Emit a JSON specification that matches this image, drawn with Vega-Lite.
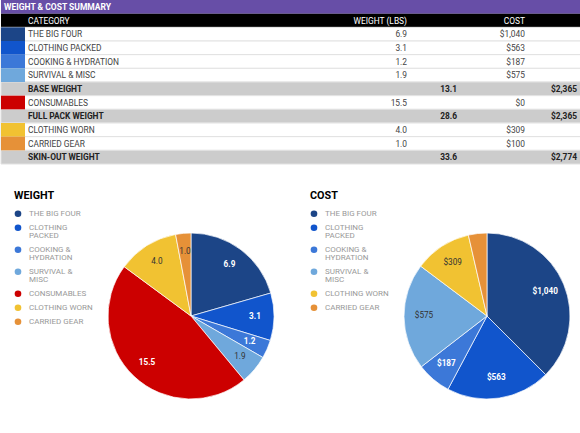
{
  "$schema": "https://vega.github.io/schema/vega-lite/v6.json",
  "padding": 0,
  "background": "white",
  "config": {
    "view": {"stroke": null},
    "font": "Roboto",
    "text": {"font": "Roboto"},
    "legend": {"labelFont": "Roboto", "titleFont": "Roboto"},
    "style": {"guide-label": {"lineHeight": 8}}
  },
  "datasets": {
    "table": [
      {"r": 0, "cat": "WEIGHT & COST SUMMARY", "kind": "title"},
      {"r": 1, "cat": "CATEGORY", "w": "WEIGHT (LBS)", "c": "COST", "kind": "header"},
      {"r": 2, "cat": "THE BIG FOUR", "w": "6.9", "c": "$1,040", "kind": "item"},
      {"r": 3, "cat": "CLOTHING PACKED", "w": "3.1", "c": "$563", "kind": "item"},
      {"r": 4, "cat": "COOKING & HYDRATION", "w": "1.2", "c": "$187", "kind": "item"},
      {"r": 5, "cat": "SURVIVAL & MISC", "w": "1.9", "c": "$575", "kind": "item"},
      {"r": 6, "cat": "BASE WEIGHT", "wt": "13.1", "ct": "$2,365", "kind": "total"},
      {"r": 7, "cat": "CONSUMABLES", "w": "15.5", "c": "$0", "kind": "item"},
      {"r": 8, "cat": "FULL PACK WEIGHT", "wt": "28.6", "ct": "$2,365", "kind": "total"},
      {"r": 9, "cat": "CLOTHING WORN", "w": "4.0", "c": "$309", "kind": "item"},
      {"r": 10, "cat": "CARRIED GEAR", "w": "1.0", "c": "$100", "kind": "item"},
      {"r": 11, "cat": "SKIN-OUT WEIGHT", "wt": "33.6", "ct": "$2,774", "kind": "total"}
    ],
    "pie": [
      {"i": 1, "cat": "THE BIG FOUR", "w": 6.9, "c": 1040},
      {"i": 2, "cat": "CLOTHING PACKED", "w": 3.1, "c": 563},
      {"i": 3, "cat": "COOKING & HYDRATION", "w": 1.2, "c": 187},
      {"i": 4, "cat": "SURVIVAL & MISC", "w": 1.9, "c": 575},
      {"i": 5, "cat": "CONSUMABLES", "w": 15.5, "c": 0},
      {"i": 6, "cat": "CLOTHING WORN", "w": 4.0, "c": 309},
      {"i": 7, "cat": "CARRIED GEAR", "w": 1.0, "c": 100}
    ]
  },
  "spacing": 25,
  "resolve": {"scale": {"color": "independent"}, "legend": {"color": "independent"}},
  "vconcat": [
    {
      "width": 580,
      "height": 164,
      "data": {"name": "table"},
      "encoding": {
        "y": {"field": "r", "type": "ordinal", "axis": null, "scale": {"paddingInner": 0, "paddingOuter": 0}}
      },
      "resolve": {"scale": {"color": "independent"}},
      "layer": [
        {
          "mark": {"type": "rect", "strokeWidth": 1},
          "encoding": {
            "color": {"field": "kind", "type": "nominal", "legend": null,
              "scale": {"domain": ["title", "header", "item", "total"], "range": ["#674ea7", "#000000", "#ffffff", "#cccccc"]}},
            "stroke": {"condition": {"test": "datum.kind == 'item' || datum.kind == 'total'", "value": "#e2e2e2"}, "value": null}
          }
        },
        {
          "transform": [{"filter": "datum.kind == 'item'"}],
          "mark": {"type": "rect"},
          "encoding": {
            "x": {"value": 0},
            "x2": {"value": 24},
            "color": {"field": "cat", "type": "nominal", "legend": null,
              "scale": {"domain": ["THE BIG FOUR", "CLOTHING PACKED", "COOKING & HYDRATION", "SURVIVAL & MISC", "CONSUMABLES", "CLOTHING WORN", "CARRIED GEAR"],
                "range": ["#1c4587", "#1155cc", "#3c78d8", "#6fa8dc", "#cc0000", "#f1c232", "#e69138"]}}
          }
        },
        {
          "transform": [{"filter": "datum.kind == 'title'"}],
          "mark": {"type": "text", "align": "left", "fontSize": 8.5, "fontWeight": "bold", "color": "white"},
          "encoding": {"x": {"value": 3}, "text": {"field": "cat"}}
        },
        {
          "transform": [{"filter": "datum.kind == 'item' || datum.kind == 'header'"}],
          "mark": {"type": "text", "align": "left", "fontSize": 8.4},
          "encoding": {
            "x": {"value": 27},
            "text": {"field": "cat"},
            "color": {"condition": {"test": "datum.kind == 'header'", "value": "white"}, "value": "#444444"}
          }
        },
        {
          "transform": [{"filter": "datum.kind == 'total'"}],
          "mark": {"type": "text", "align": "left", "fontSize": 8.4, "fontWeight": "bold", "color": "#222222"},
          "encoding": {"x": {"value": 27}, "text": {"field": "cat"}}
        },
        {
          "transform": [{"filter": "datum.w != null"}],
          "mark": {"type": "text", "align": "right", "fontSize": 8.4},
          "encoding": {
            "x": {"value": 406},
            "text": {"field": "w"},
            "color": {"condition": {"test": "datum.kind == 'header'", "value": "white"}, "value": "#444444"}
          }
        },
        {
          "transform": [{"filter": "datum.c != null"}],
          "mark": {"type": "text", "align": "right", "fontSize": 8.4},
          "encoding": {
            "x": {"value": 524},
            "text": {"field": "c"},
            "color": {"condition": {"test": "datum.kind == 'header'", "value": "white"}, "value": "#444444"}
          }
        },
        {
          "transform": [{"filter": "datum.wt != null"}],
          "mark": {"type": "text", "align": "right", "fontSize": 8.4, "fontWeight": "bold", "color": "#222222"},
          "encoding": {"x": {"value": 456}, "text": {"field": "wt"}}
        },
        {
          "transform": [{"filter": "datum.ct != null"}],
          "mark": {"type": "text", "align": "right", "fontSize": 8.4, "fontWeight": "bold", "color": "#222222"},
          "encoding": {"x": {"value": 576}, "text": {"field": "ct"}}
        }
      ]
    },
    {
      "spacing": 21,
      "resolve": {"scale": {"color": "independent", "theta": "independent"}, "legend": {"color": "independent"}},
      "hconcat": [
        {
          "width": 273,
          "height": 209,
          "data": {"name": "pie"},
          "encoding": {
            "theta": {"field": "w", "type": "quantitative", "stack": true},
            "order": {"field": "i", "type": "quantitative"}
          },
          "layer": [
            {
              "mark": {"type": "arc", "stroke": "white", "strokeWidth": 0.7, "outerRadius": 83, "x": 190, "y": 126},
              "encoding": {
                "color": {"field": "cat", "type": "nominal",
                  "scale": {"domain": ["THE BIG FOUR", "CLOTHING PACKED", "COOKING & HYDRATION", "SURVIVAL & MISC", "CONSUMABLES", "CLOTHING WORN", "CARRIED GEAR"],
                    "range": ["#1c4587", "#1155cc", "#3c78d8", "#6fa8dc", "#cc0000", "#f1c232", "#e69138"]},
                  "legend": {"orient": "none", "legendX": 13, "legendY": 0, "padding": 0, "title": "WEIGHT",
                    "titleFontSize": 10.8, "titleFontWeight": "bold", "titleColor": "#000000", "titlePadding": 9,
                    "labelFontSize": 8, "labelColor": "#999999", "symbolType": "circle", "symbolSize": 44, "symbolStrokeWidth": 0,
                    "rowPadding": 6, "labelOffset": 7,
                    "labelExpr": "length(datum.label) > 13 ? [slice(datum.label, 0, lastindexof(datum.label, ' ')), slice(datum.label, lastindexof(datum.label, ' ') + 1)] : datum.label"}
                }
              }
            },
            {
              "mark": {"type": "text", "radius": 64, "fontSize": 8.2, "fontWeight": "bold", "color": "white", "x": 190, "y": 126},
              "encoding": {
                "detail": {"field": "cat"},
                "text": {"field": "w", "type": "quantitative", "format": ".1f"},
                "opacity": {"condition": {"test": "datum.cat == 'SURVIVAL & MISC' || datum.cat == 'CLOTHING WORN' || datum.cat == 'CARRIED GEAR'", "value": 0}, "value": 1}
              }
            },
            {
              "mark": {"type": "text", "radius": 64, "fontSize": 8.2, "color": "#333333", "x": 190, "y": 126},
              "encoding": {
                "detail": {"field": "cat"},
                "text": {"field": "w", "type": "quantitative", "format": ".1f"},
                "opacity": {"condition": {"test": "datum.cat == 'SURVIVAL & MISC' || datum.cat == 'CLOTHING WORN' || datum.cat == 'CARRIED GEAR'", "value": 1}, "value": 0}
              }
            }
          ]
        },
        {
          "width": 273,
          "height": 209,
          "data": {"name": "pie"},
          "transform": [{"filter": "datum.c > 0"}],
          "encoding": {
            "theta": {"field": "c", "type": "quantitative", "stack": true},
            "order": {"field": "i", "type": "quantitative"}
          },
          "layer": [
            {
              "mark": {"type": "arc", "stroke": "white", "strokeWidth": 0.7, "outerRadius": 83, "x": 190, "y": 126},
              "encoding": {
                "color": {"field": "cat", "type": "nominal",
                  "scale": {"domain": ["THE BIG FOUR", "CLOTHING PACKED", "COOKING & HYDRATION", "SURVIVAL & MISC", "CLOTHING WORN", "CARRIED GEAR"],
                    "range": ["#1c4587", "#1155cc", "#3c78d8", "#6fa8dc", "#f1c232", "#e69138"]},
                  "legend": {"orient": "none", "legendX": 13, "legendY": 0, "padding": 0, "title": "COST",
                    "titleFontSize": 10.8, "titleFontWeight": "bold", "titleColor": "#000000", "titlePadding": 9,
                    "labelFontSize": 8, "labelColor": "#999999", "symbolType": "circle", "symbolSize": 44, "symbolStrokeWidth": 0,
                    "rowPadding": 6, "labelOffset": 7,
                    "labelExpr": "length(datum.label) > 13 ? [slice(datum.label, 0, lastindexof(datum.label, ' ')), slice(datum.label, lastindexof(datum.label, ' ') + 1)] : datum.label"}
                }
              }
            },
            {
              "mark": {"type": "text", "radius": 63, "fontSize": 8.2, "fontWeight": "bold", "color": "white", "x": 190, "y": 126},
              "encoding": {
                "detail": {"field": "cat"},
                "text": {"field": "c", "type": "quantitative", "format": "$,.0f"},
                "opacity": {"condition": {"test": "datum.cat == 'THE BIG FOUR' || datum.cat == 'CLOTHING PACKED' || datum.cat == 'COOKING & HYDRATION'", "value": 1}, "value": 0}
              }
            },
            {
              "mark": {"type": "text", "radius": 63, "fontSize": 8.2, "color": "#333333", "x": 190, "y": 126},
              "encoding": {
                "detail": {"field": "cat"},
                "text": {"field": "c", "type": "quantitative", "format": "$,.0f"},
                "opacity": {"condition": {"test": "datum.cat == 'SURVIVAL & MISC' || datum.cat == 'CLOTHING WORN'", "value": 1}, "value": 0}
              }
            }
          ]
        }
      ]
    }
  ]
}
